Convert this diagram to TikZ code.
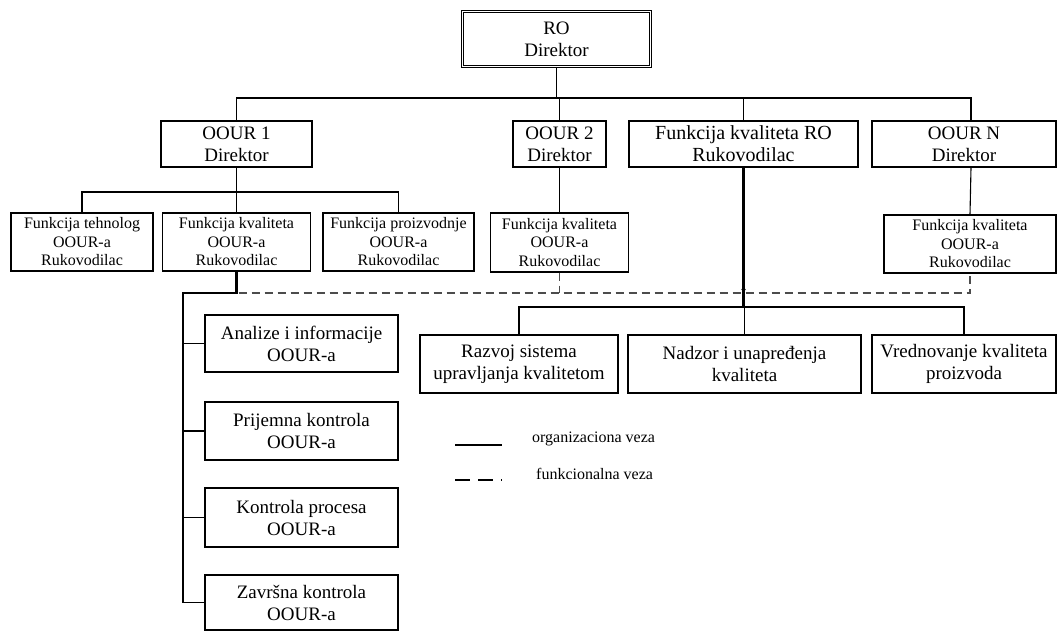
\documentclass[tikz,border=0pt]{standalone}
\usepackage{fontspec}
\setmainfont{Liberation Serif}
\begin{document}
\begin{tikzpicture}[x=1pt,y=-1pt,
  bigtxt/.style={font=\fontsize{19}{22}\selectfont},
  headtxt/.style={font=\fontsize{20}{22}\selectfont},
  smalltxt/.style={font=\fontsize{16}{18.5}\selectfont},
  box/.style={draw, line width=1.2pt, rectangle, inner sep=0pt, align=center},
  orgline/.style={line width=1.1pt},
  orgbold/.style={line width=2.1pt},
  funcline/.style={line width=1.4pt, draw=black!70, dash pattern=on 8pt off 5pt},
]
\useasboundingbox (0,0) rectangle (1057,631);

% top level
\node[box, bigtxt, double, double distance=1.6pt, line width=0.9pt,
      minimum width=188, minimum height=55] (ro) at (556.5,39) {RO\\Direktor};

% second level
\node[box, bigtxt, minimum width=151, minimum height=46] (o1)  at (236.5,144) {OOUR 1\\Direktor};
\node[box, bigtxt, minimum width=93,  minimum height=46] (o2)  at (559.5,144) {OOUR 2\\Direktor};
\node[box, headtxt, minimum width=229, minimum height=46] (fro) at (743.5,144) {Funkcija kvaliteta RO\\Rukovodilac};
\node[box, bigtxt, minimum width=184, minimum height=46] (on)  at (964,144)   {OOUR N\\Direktor};

% third level
\node[box, smalltxt, minimum width=142, minimum height=58] (teh) at (82,242)    {Funkcija tehnolog\\OOUR-a\\Rukovodilac};
\node[box, smalltxt, minimum width=148, minimum height=58] (kv1) at (236.5,242) {Funkcija kvaliteta\\OOUR-a\\Rukovodilac};
\node[box, smalltxt, minimum width=151, minimum height=58] (pro) at (398.5,242) {Funkcija proizvodnje\\OOUR-a\\Rukovodilac};
\node[box, smalltxt, minimum width=138, minimum height=59] (kv2) at (559.5,242.5) {Funkcija kvaliteta\\OOUR-a\\Rukovodilac};
\node[box, smalltxt, minimum width=172, minimum height=58] (kvn) at (970,244)   {Funkcija kvaliteta\\OOUR-a\\Rukovodilac};

% quality services of OOUR 1
\node[box, bigtxt, minimum width=193, minimum height=57] (an) at (301.5,343.5) {Analize i informacije\\OOUR-a};
\node[box, bigtxt, minimum width=193, minimum height=58] (pr) at (301.5,431)   {Prijemna kontrola\\OOUR-a};
\node[box, bigtxt, minimum width=193, minimum height=59] (kp) at (301.5,517.5) {Kontrola procesa\\OOUR-a};
\node[box, bigtxt, minimum width=193, minimum height=55] (zk) at (301.5,602.5) {Završna kontrola\\OOUR-a};

% quality services of RO
\node[box, bigtxt, minimum width=198, minimum height=58] (rz) at (519,364)   {Razvoj sistema\\upravljanja kvalitetom};
\node[box, bigtxt, minimum width=233, minimum height=58] (nd) at (744.5,364) {Nadzor i unapređenja\\kvaliteta};
\node[box, bigtxt, minimum width=184, minimum height=58] (vr) at (964,364)   {Vrednovanje kvaliteta\\proizvoda};

% bus levels
\coordinate (busA)  at (0,98);
\coordinate (busB)  at (0,192);
\coordinate (dash)  at (0,293);
\coordinate (busC)  at (0,307);
\coordinate (trunk) at (183,293);

% organisational links, upper part
\draw[orgline] (ro.south) -- (ro.south |- busA);
\draw[orgline] (o1.north) |- ([xshift=7pt]on.north |- busA) -- ([xshift=7pt]on.north);
\draw[orgline] (o2.north) -- (o2.north |- busA);
\draw[orgline] (fro.north) -- (fro.north |- busA);

\draw[orgline] (o1.south) -- (kv1.north);
\draw[orgline] (teh.north) |- (pro.north |- busB) -- (pro.north);
\draw[orgline] (o2.south) -- (kv2.north);
\draw[orgline] ([xshift=7pt]on.south) -- (kvn.north);

% functional links
\draw[funcline] ([xshift=2pt]kv1.south |- dash) -- (kvn.south |- dash) -- (kvn.south);
\draw[funcline] (kv2.south) -- (kv2.south |- dash);

% organisational trunk of OOUR 1 quality function
\draw[orgbold] (kv1.south) |- (trunk) -- (trunk |- zk.west);
\draw[orgline] (trunk |- an.west) -- (an.west);
\draw[orgline] (trunk |- pr.west) -- (pr.west);
\draw[orgline] (trunk |- kp.west) -- (kp.west);
\draw[orgline] (trunk |- zk.west) -- (zk.west);

% organisational links of RO quality function
\draw[orgbold] (fro.south) -- (fro.south |- busC);
\draw[line width=0.6pt] ([shift={(-2,-3)}]fro.south |- dash) -- ([shift={(0,-6)}]fro.south |- dash) -- ([shift={(2,-3)}]fro.south |- dash);
\draw[orgline] (rz.north) |- (vr.north |- busC) -- (vr.north);
\draw[orgline] (nd.north) -- (nd.north |- busC);

% legend
\coordinate (la1) at (455,445);
\coordinate (la2) at (502,445);
\coordinate (lb1) at (455,480);
\coordinate (lb2) at (502,480);
\draw[line width=2pt] (la1) -- (la2);
\draw[line width=2pt, dash pattern=on 14.5pt off 8.5pt] (lb1) -- (lb2);
\node[anchor=base west, font=\fontsize{16}{18}\selectfont, inner sep=0pt] (lta) at (532,442) {organizaciona veza};
\node[anchor=base west, font=\fontsize{16}{18}\selectfont, inner sep=0pt] (ltb) at (536,479) {funkcionalna veza};
\end{tikzpicture}
\end{document}
